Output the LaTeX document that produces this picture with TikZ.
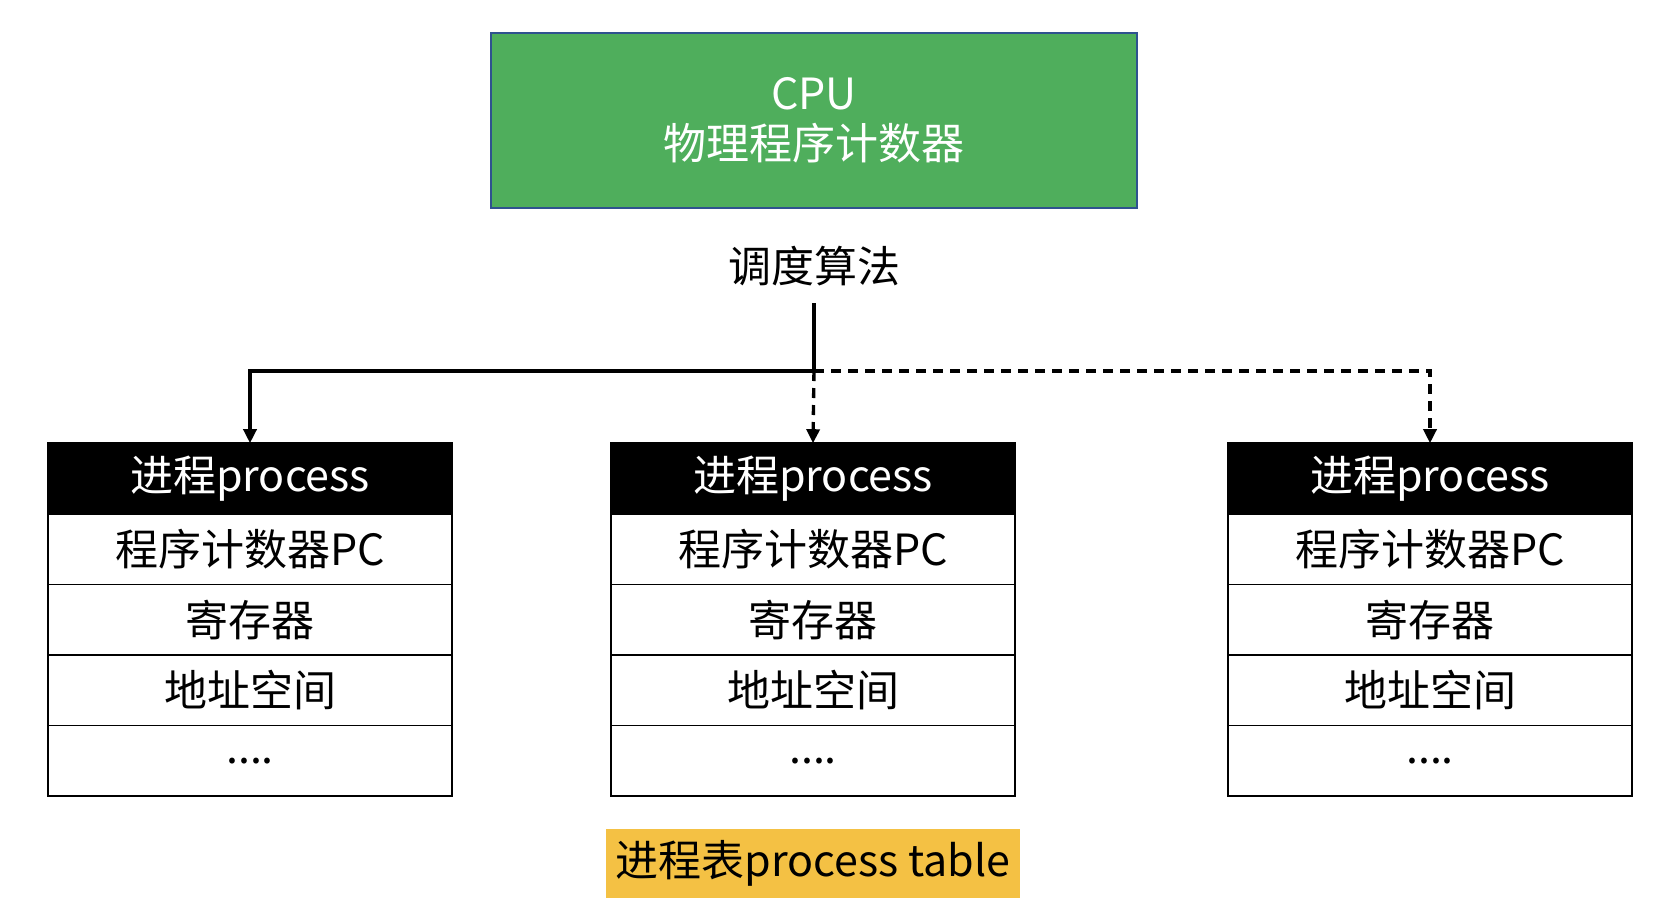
\documentclass[tikz,border=0pt]{standalone}
\usepackage{fontspec}
\setmainfont{Noto Sans CJK SC}
\usetikzlibrary{positioning, arrows.meta}

\definecolor{cpugreen}{HTML}{4FAE5C}
\definecolor{cpublue}{HTML}{2F528F}
\definecolor{tableyellow}{HTML}{F4C144}

\begin{document}
\begin{tikzpicture}[
    x=0.5pt, y=-0.5pt,
    >={Triangle[width=6.5pt, length=7pt]},
    every node/.style={align=center, font=\fontsize{21.5}{25}\selectfont, outer sep=0pt},
    cpubox/.style={draw=cpublue, line width=0.8pt, fill=cpugreen, text=white, minimum width=323pt, minimum height=87.5pt},
    head/.style={draw=black, line width=0.8pt, fill=black, text=white, minimum width=202pt, minimum height=35.3pt},
    row/.style={draw=black, line width=0.8pt, fill=white, minimum width=202pt, minimum height=35.3pt},
    tablelabel/.style={fill=tableyellow, minimum width=207pt, minimum height=34.5pt},
    link/.style={line width=1.7pt}
]
    \useasboundingbox (0,0) rectangle (1666,906);

    % CPU
    \node[cpubox] (cpu) at (814,120.5) {CPU\\物理程序计数器};

    % Scheduler
    \node (sched) at (814,266) {调度算法};
    \coordinate (schedout) at (814,303);
    \coordinate (fork) at (814,371);

    % Process 1
    \node[head] (head1) at (250,478.5) {进程process};
    \node[row, below=0pt of head1] (pc1) {程序计数器PC};
    \node[row, below=0pt of pc1] (reg1) {寄存器};
    \node[row, below=0pt of reg1] (addr1) {地址空间};
    \node[row, below=0pt of addr1] (more1) {....};

    % Process 2
    \node[head] (head2) at (813,478.5) {进程process};
    \node[row, below=0pt of head2] (pc2) {程序计数器PC};
    \node[row, below=0pt of pc2] (reg2) {寄存器};
    \node[row, below=0pt of reg2] (addr2) {地址空间};
    \node[row, below=0pt of addr2] (more2) {....};

    % Process 3
    \node[head] (head3) at (1430,478.5) {进程process};
    \node[row, below=0pt of head3] (pc3) {程序计数器PC};
    \node[row, below=0pt of pc3] (reg3) {寄存器};
    \node[row, below=0pt of reg3] (addr3) {地址空间};
    \node[row, below=0pt of addr3] (more3) {....};

    % Process table label
    \node[tablelabel] (table) at (813,863.5) {进程表process table};

    % Arrows
    \draw[link, ->] (schedout) -- (fork) -| (head1.north);
    \draw[link, dashed, dash pattern=on 5pt off 3.5pt, ->] (fork) -- (head2.north);
    \draw[link, dashed, dash pattern=on 5pt off 3.5pt, ->] (fork) -| (head3.north);

\end{tikzpicture}
\end{document}
